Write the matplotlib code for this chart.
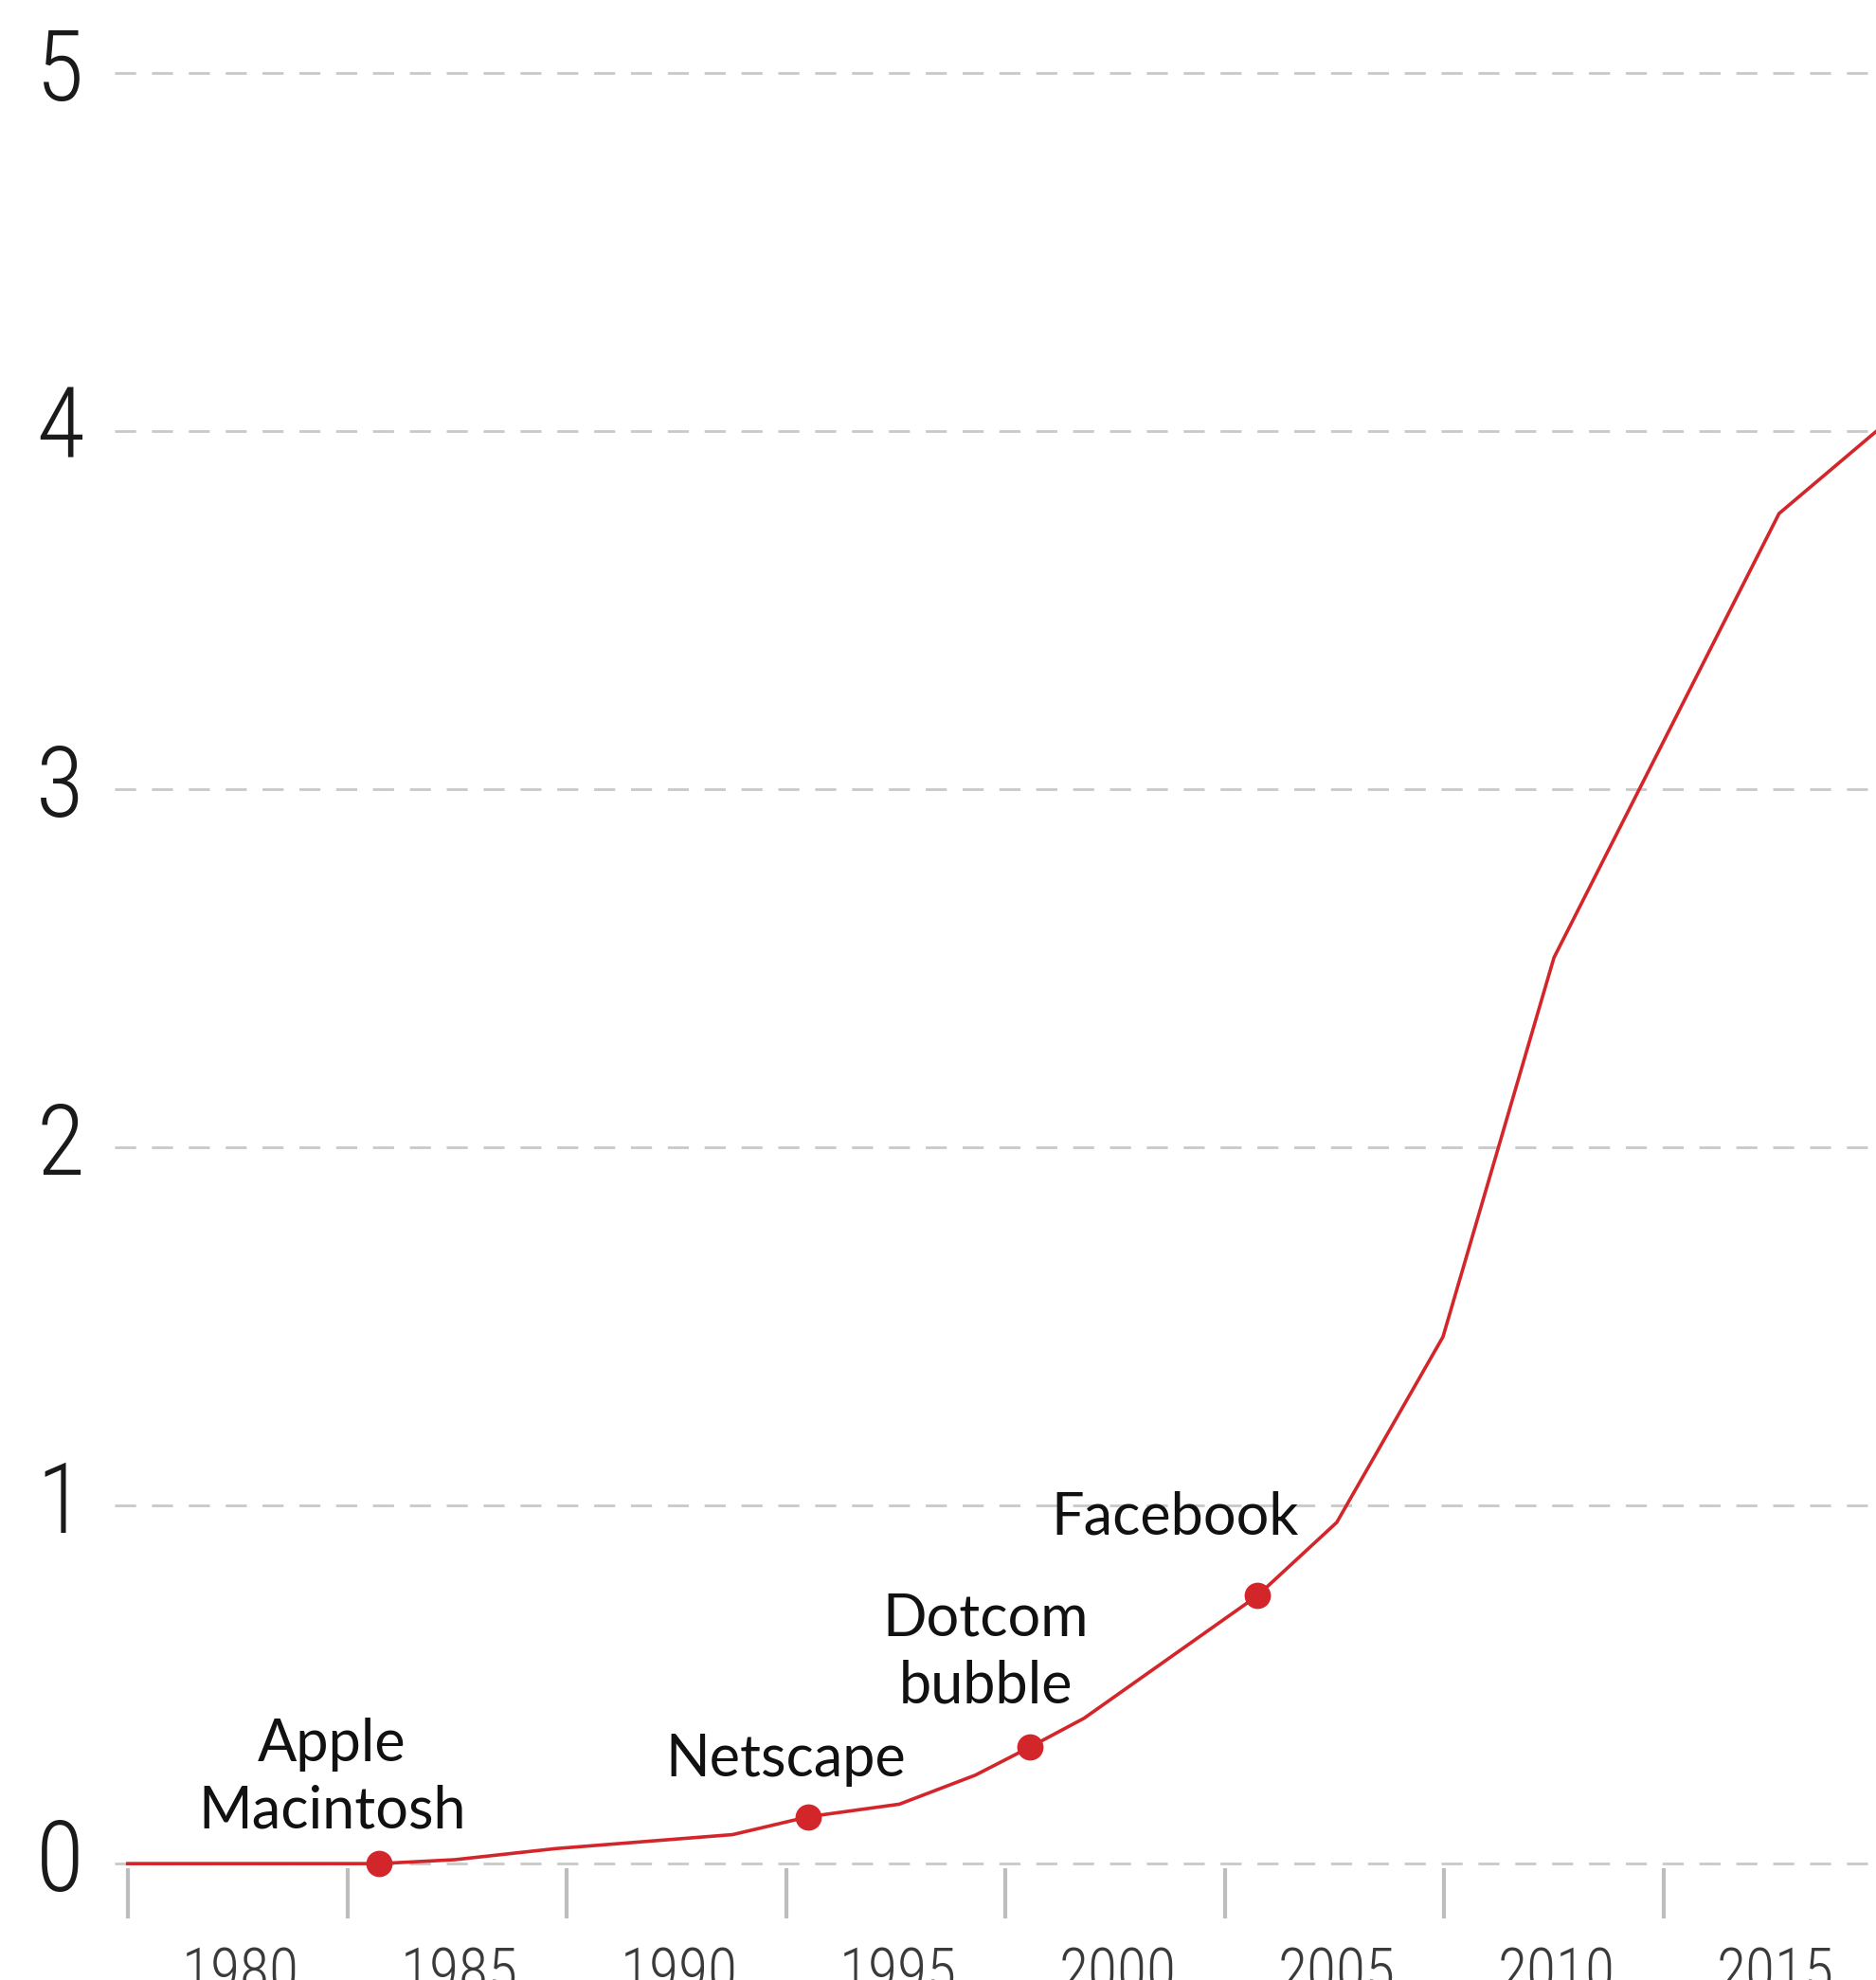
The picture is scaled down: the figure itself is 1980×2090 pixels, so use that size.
import matplotlib
matplotlib.use('Agg')
import matplotlib.pyplot as plt

# -- series (year, value)
years = [1977.44, 1983.17, 1984.9, 1987.2, 1991.23, 1992.96, 1995.03, 1996.76,
         1998.0, 1999.24, 2003.19, 2005.0, 2007.42, 2009.95, 2015.08, 2017.3]
values = [0.0, 0.0, 0.011, 0.042, 0.081, 0.131, 0.166, 0.247,
          0.325, 0.406, 0.748, 0.953, 1.471, 2.53, 3.77, 4.0]

# -- annotated events
event_labels = ['Apple\nMacintosh', 'Netscape', 'Dotcom\nbubble', 'Facebook']
event_years = [1983.17, 1992.96, 1998.0, 2003.19]
event_values = [0.0, 0.131, 0.325, 0.748]

yticks = [0, 1, 2, 3, 4, 5]
xlabels = [1980, 1985, 1990, 1995, 2000, 2005, 2010, 2015]

# -- layout
label_xy = [(1982.1, 0.24), (1992.44, 0.29), (1996.99, 0.59), (2001.3, 0.965)]
tickmarks = [x - 2.55 for x in xlabels] + [2017.45]

red = '#d2262b'
grey = '#c9c9c9'
numfont = ['Roboto Condensed', 'Liberation Sans Narrow', 'DejaVu Sans']
txtfont = ['Lato', 'DejaVu Sans']

fig = plt.figure(figsize=(19.8, 20.9), dpi=100)
ax = fig.add_axes([0, 0, 1, 1])
ax.set_xlim(1974.53, 2017.29)
ax.set_ylim(-0.325, 5.204)
ax.axis('off')

# -- dashed grid
ax.hlines(yticks, 1977.14, 2018, colors=grey, lw=2, linestyles=(0, (8, 6)), zorder=1)

# -- y labels
for v in yticks:
    ax.text(1975.9, v, str(v), ha='center', va='center', fontsize=75,
            family=numfont, weight='light', color='#1a1a1a')

# -- x tick marks and labels
ax.vlines(tickmarks, -0.012, -0.152, colors='#bdbdbd', lw=3, zorder=1)
for x in xlabels:
    ax.text(x, -0.228, str(x), ha='center', va='top', fontsize=46,
            family=numfont, weight='light', color='#3a3a3a')

# -- line and event dots
ax.plot(years, values, color=red, lw=2.6, zorder=3, solid_joinstyle='miter')
ax.plot(event_years, event_values, 'o', color=red, ms=20, mec='none', zorder=4)

for lab, (lx, ly) in zip(event_labels, label_xy):
    ax.text(lx, ly, lab, ha='center', va='center', fontsize=44, family=txtfont,
            color='#111111', linespacing=1.3, zorder=5)

plt.savefig('out.png', dpi=100, facecolor='white')
